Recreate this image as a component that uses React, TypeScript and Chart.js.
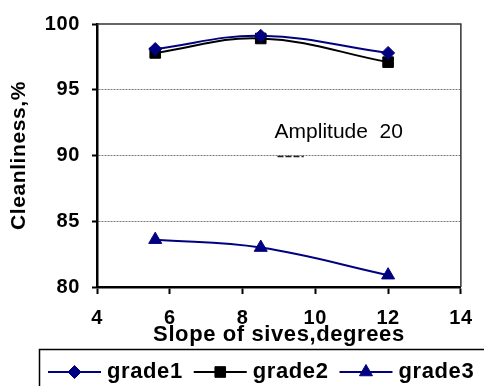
import React, { useEffect, useRef } from "react";
import { Chart, registerables } from "chart.js";

Chart.register(...registerables);

// Sieve slope (degrees) at which cleanliness was measured
const slopes = [5.6, 8.5, 12];
// Cleanliness, % for each grade
const grade1 = [98.1, 99.1, 97.8];
const grade2 = [97.8, 98.9, 97.1];
const grade3 = [83.6, 83.0, 80.9];

const seriesNames = ["grade1", "grade2", "grade3"];
const xTickValues = [4, 6, 8, 10, 12, 14];
const yTickValues = [80, 85, 90, 95, 100];

const xTitle = "Slope of sives,degrees";
const yTitle = "Cleanliness,%";
const noteText = "Amplitude  20";
const noteAt = { x: 8.88, y: 91.35 };
// short dark stroke lying on the 90 % grid line under the note
const noteDash = { x1: 8.96, x2: 9.68, y: 90 };

const FONT = '"Liberation Sans", Arial, Helvetica, sans-serif';
const NAVY = "#000080";
const BLACK = "#000000";

const seriesColors = [NAVY, BLACK, NAVY];
const seriesStyles = ["rectRot", "rect", "triangle"];
const seriesRadius = [6.5, 7.5, 7.5];
const seriesValues = [grade1, grade2, grade3];

function drawMarker(
  ctx: CanvasRenderingContext2D,
  style: string,
  x: number,
  y: number,
  r: number,
  color: string
) {
  ctx.fillStyle = color;
  ctx.strokeStyle = color;
  ctx.lineWidth = 1;
  ctx.setLineDash([]);
  ctx.beginPath();
  if (style === "rectRot") {
    ctx.moveTo(x, y - r);
    ctx.lineTo(x + r, y);
    ctx.lineTo(x, y + r);
    ctx.lineTo(x - r, y);
  } else if (style === "rect") {
    const s = r * Math.SQRT1_2;
    ctx.rect(x - s, y - s, 2 * s, 2 * s);
  } else {
    const a = (2 * Math.PI) / 3;
    ctx.moveTo(x, y - r);
    ctx.lineTo(x + Math.sin(a) * r, y - Math.cos(a) * r);
    ctx.lineTo(x + Math.sin(2 * a) * r, y - Math.cos(2 * a) * r);
  }
  ctx.closePath();
  ctx.fill();
  ctx.stroke();
}

const decorPlugin = {
  id: "decor",
  beforeDraw(chart: any) {
    chart.ctx.letterSpacing = "0.6px";
  },
  beforeDatasetsDraw(chart: any) {
    const { ctx, chartArea: a, scales } = chart;
    ctx.save();
    ctx.strokeStyle = "#333333";
    ctx.lineWidth = 1.5;
    ctx.beginPath();
    ctx.moveTo(a.left, a.top);
    ctx.lineTo(a.right, a.top);
    ctx.lineTo(a.right, a.bottom);
    ctx.stroke();

    const dy = Math.round(scales.y.getPixelForValue(noteDash.y)) + 0.5;
    ctx.strokeStyle = "#222222";
    ctx.lineWidth = 1.5;
    ctx.setLineDash([6, 2]);
    ctx.beginPath();
    ctx.moveTo(scales.x.getPixelForValue(noteDash.x1), dy);
    ctx.lineTo(scales.x.getPixelForValue(noteDash.x2), dy);
    ctx.stroke();
    ctx.restore();
  },
  afterDraw(chart: any) {
    const { ctx, scales } = chart;
    ctx.save();

    // text note inside the plot
    ctx.letterSpacing = "0px";
    ctx.font = `21px ${FONT}`;
    ctx.fillStyle = "#000";
    ctx.textAlign = "left";
    ctx.textBaseline = "alphabetic";
    ctx.fillText(
      noteText,
      scales.x.getPixelForValue(noteAt.x),
      scales.y.getPixelForValue(noteAt.y)
    );

    // boxed legend under the axis title
    ctx.strokeStyle = "#000";
    ctx.lineWidth = 1.5;
    ctx.strokeRect(39.5, 349.5, 520, 80);

    ctx.letterSpacing = "0.6px";
    ctx.font = `bold 22px ${FONT}`;
    ctx.textBaseline = "middle";
    const cy = 372;
    let x = 48;
    seriesNames.forEach((name, i) => {
      const color = seriesColors[i];
      ctx.strokeStyle = color;
      ctx.lineWidth = 2;
      ctx.beginPath();
      ctx.moveTo(x, cy);
      ctx.lineTo(x + 53, cy);
      ctx.stroke();
      drawMarker(ctx, seriesStyles[i], x + 26.5, cy, seriesRadius[i], color);
      ctx.fillStyle = "#000";
      const tx = x + 59;
      ctx.fillText(name, tx, cy);
      x = tx + ctx.measureText(name).width + 11;
    });

    ctx.restore();
  },
};

export default function App() {
  const ref = useRef<HTMLCanvasElement>(null);

  useEffect(() => {
    const canvas = ref.current;
    if (!canvas) return;

    const datasets = seriesNames.map((name, i) => ({
      label: name,
      data: slopes.map((s, j) => ({ x: s, y: seriesValues[i][j] })),
      borderColor: seriesColors[i],
      backgroundColor: seriesColors[i],
      borderWidth: 2,
      tension: 0.4,
      pointStyle: seriesStyles[i],
      pointRadius: seriesRadius[i],
      pointBorderWidth: 1,
      pointBorderColor: seriesColors[i],
      pointBackgroundColor: seriesColors[i],
      fill: false,
      clip: false as any,
    }));

    const chart = new Chart(canvas, {
      type: "line",
      data: { datasets },
      plugins: [decorPlugin],
      options: {
        responsive: false,
        devicePixelRatio: 1,
        animation: false,
        layout: { padding: { top: 21, right: 12, bottom: 37, left: 0 } },
        plugins: {
          legend: { display: false },
          tooltip: { enabled: false },
        },
        scales: {
          x: {
            type: "linear",
            min: 4,
            max: 14,
            afterBuildTicks: (s: any) => {
              s.ticks = xTickValues.map((v) => ({ value: v }));
            },
            afterFit: (s: any) => {
              s.height = 62;
            },
            ticks: {
              color: "#000",
              padding: 12,
              font: { family: FONT, size: 20, weight: "bold" },
              callback: (v: any) => String(v),
            },
            grid: {
              drawOnChartArea: false,
              drawTicks: true,
              tickLength: 7,
              tickColor: "#000",
              tickWidth: 2,
            },
            border: { display: true, color: "#000", width: 2.5 },
            title: {
              display: true,
              text: xTitle,
              color: "#000",
              padding: { top: 0, bottom: 1 },
              font: { family: FONT, size: 22, weight: "bold" },
            },
          },
          y: {
            type: "linear",
            min: 80,
            max: 100,
            afterBuildTicks: (s: any) => {
              s.ticks = yTickValues.map((v) => ({ value: v }));
            },
            afterFit: (s: any) => {
              s.width = 97;
            },
            ticks: {
              color: "#000",
              padding: 12,
              font: { family: FONT, size: 20, weight: "bold" },
              callback: (v: any) => String(v),
            },
            grid: {
              color: (c: any) =>
                c.tick && (c.tick.value === 80 || c.tick.value === 100)
                  ? "rgba(0,0,0,0)"
                  : "#7a7a7a",
              lineWidth: 1,
              drawTicks: true,
              tickLength: 5,
              tickColor: "#000",
              tickWidth: 2,
            },
            border: { display: true, color: "#000", width: 2.5, dash: [2, 1] },
            title: {
              display: true,
              text: yTitle,
              color: "#000",
              padding: { top: 7, bottom: 0 },
              font: { family: FONT, size: 21, weight: "bold" },
            },
          },
        },
      } as any,
    });

    return () => chart.destroy();
  }, []);

  return (
    <div
      style={{
        position: "absolute",
        left: 0,
        top: 0,
        width: 484,
        height: 386,
        background: "#fff",
      }}
    >
      <canvas ref={ref} width={484} height={386} style={{ display: "block" }} />
    </div>
  );
}
